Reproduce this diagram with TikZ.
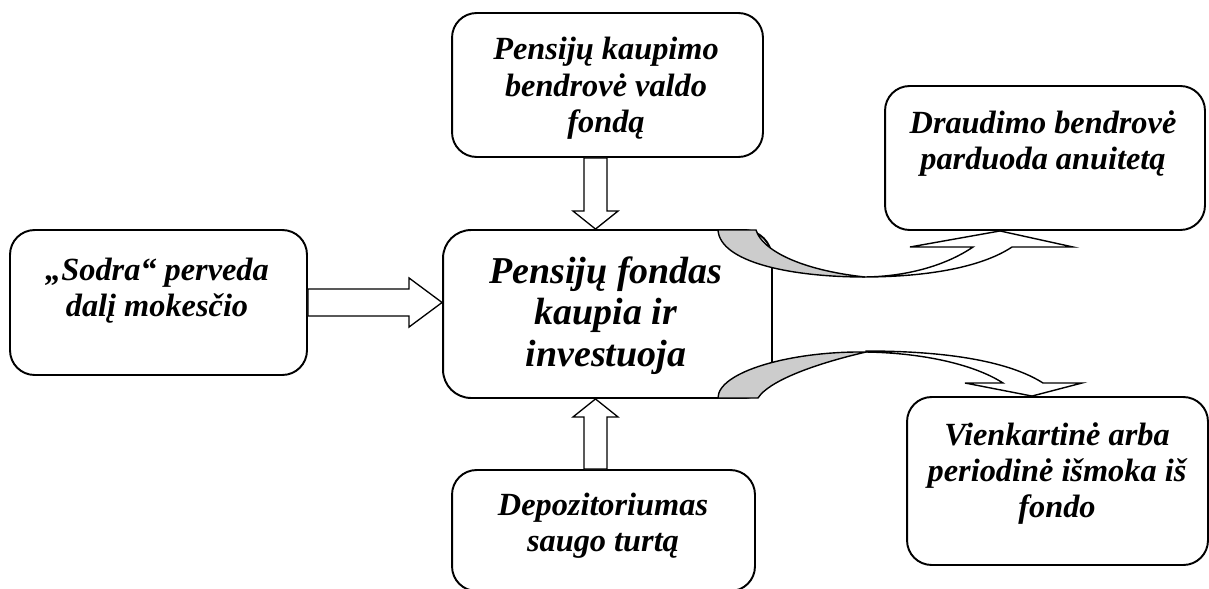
\documentclass[tikz,border=0pt]{standalone}
\usepackage{fontspec}
\setmainfont{Liberation Serif}
\usetikzlibrary{calc}

\definecolor{juostpilka}{gray}{0.8}
\newcommand{\eilutes}[1]{\begin{tabular}[t]{@{}c@{}}#1\end{tabular}}

\begin{document}
\begin{tikzpicture}[
  x=0.02cm, y=-0.02cm,
  deze/.style={draw, line width=1.1pt, rounded corners=14pt, fill=white, inner sep=0pt},
  tekstas/.style={anchor=base, inner sep=0pt, font=\fontsize{18.4}{20.7}\selectfont\bfseries\itshape},
  didelis/.style={font=\fontsize{21.6}{23.8}\selectfont\bfseries\itshape},
  rodykle/.style={draw, line width=0.75pt, fill=white, line join=miter},
  juosta/.style={draw, line width=0.8pt, fill=white}
]
  \useasboundingbox (0,0) rectangle (1209,588);

  % Blokai
  \node[deze, minimum width=5.94cm, minimum height=2.9cm] (sodra) at (158.5,302.5) {};
  \node[deze, minimum width=6.22cm, minimum height=2.88cm] (kaup) at (607.5,85) {};
  \node[deze, rounded corners=16pt, minimum width=6.58cm, minimum height=3.36cm] (fond) at (607.5,314) {};
  \node[deze, minimum width=6.06cm, minimum height=2.42cm] (depo) at (603.5,530.5) {};
  \node[deze, minimum width=6.4cm, minimum height=2.88cm] (draud) at (1045,158) {};
  \node[deze, minimum width=6.02cm, minimum height=3.36cm] (vienk) at (1057.5,481) {};

  % Tekstai
  \node[tekstas] (sodraT) at (157,280) {\eilutes{„Sodra“ perveda\\dalį mokesčio}};
  \node[tekstas] (kaupT) at (606,60) {\eilutes{Pensijų kaupimo\\bendrovė valdo\\fondą}};
  \node[tekstas, didelis] (fondT) at (606,283) {\eilutes{Pensijų fondas\\kaupia ir\\investuoja}};
  \node[tekstas] (depoT) at (603,515) {\eilutes{Depozitoriumas\\saugo turtą}};
  \node[tekstas] (draudT) at (1043,133) {\eilutes{Draudimo bendrovė\\parduoda anuitetą}};
  \node[tekstas] (vienkT) at (1057,445) {\eilutes{Vienkartinė arba\\periodinė išmoka iš\\fondo}};

  % Parametrai
  \def\koj{11.5}
  \def\galv{22.5}
  \def\ilg{18}
  \coordinate (ax) at (595.5,0);

  % „Sodra“ -> fondas
  \coordinate (sTip) at (fond.west |- sodra.east);
  \draw[rodykle] ($(sodra.east)+(0,-13.5)$) -- ($(sTip)+(-33,-13.5)$) -- ($(sTip)+(-33,-24.5)$)
    -- (sTip) -- ($(sTip)+(-33,24.5)$) -- ($(sTip)+(-33,13.5)$) -- ($(sodra.east)+(0,13.5)$) -- cycle;

  % Bendrovė -> fondas
  \coordinate (kTip) at (fond.north -| ax);
  \draw[rodykle] ($(kaup.south -| ax)+(-\koj,0)$) -- ($(kTip)+(-\koj,-\ilg)$) -- ($(kTip)+(-\galv,-\ilg)$)
    -- (kTip) -- ($(kTip)+(\galv,-\ilg)$) -- ($(kTip)+(\koj,-\ilg)$) -- ($(kaup.south -| ax)+(\koj,0)$) -- cycle;

  % Depozitoriumas -> fondas
  \coordinate (dTip) at (fond.south -| ax);
  \draw[rodykle] ($(depo.north -| ax)+(-\koj,0)$) -- ($(dTip)+(-\koj,\ilg)$) -- ($(dTip)+(-\galv,\ilg)$)
    -- (dTip) -- ($(dTip)+(\galv,\ilg)$) -- ($(dTip)+(\koj,\ilg)$) -- ($(depo.north -| ax)+(\koj,0)$) -- cycle;

  % Lenkta rodyklė į draudimo bendrovę
  \draw[juosta, fill=juostpilka] (718,230) -- (756,230) .. controls (762,250) and (800,270) .. (865,277)
    .. controls (790,277) and (720,262) .. (718,230) -- cycle;
  \draw[juosta] (862,277) .. controls (935,277) and (985,265) .. (1012,247) -- (1073,247)
    -- (draud.south -| 1000,0) -- (910,247) -- (973,247) .. controls (945,266) and (905,277) .. (862,277) -- cycle;

  % Lenkta rodyklė į išmoką
  \draw[juosta, fill=juostpilka] (718,398) -- (758,398) .. controls (768,382) and (810,365) .. (866,352)
    .. controls (790,351) and (718,372) .. (718,398) -- cycle;
  \draw[juosta] (866,351) .. controls (950,351) and (1010,362) .. (1043,383) -- (1082,383)
    -- (vienk.north -| 1032,0) -- (965,383) -- (1003,383) .. controls (975,365) and (925,353) .. (866,352) -- cycle;

\end{tikzpicture}
\end{document}
